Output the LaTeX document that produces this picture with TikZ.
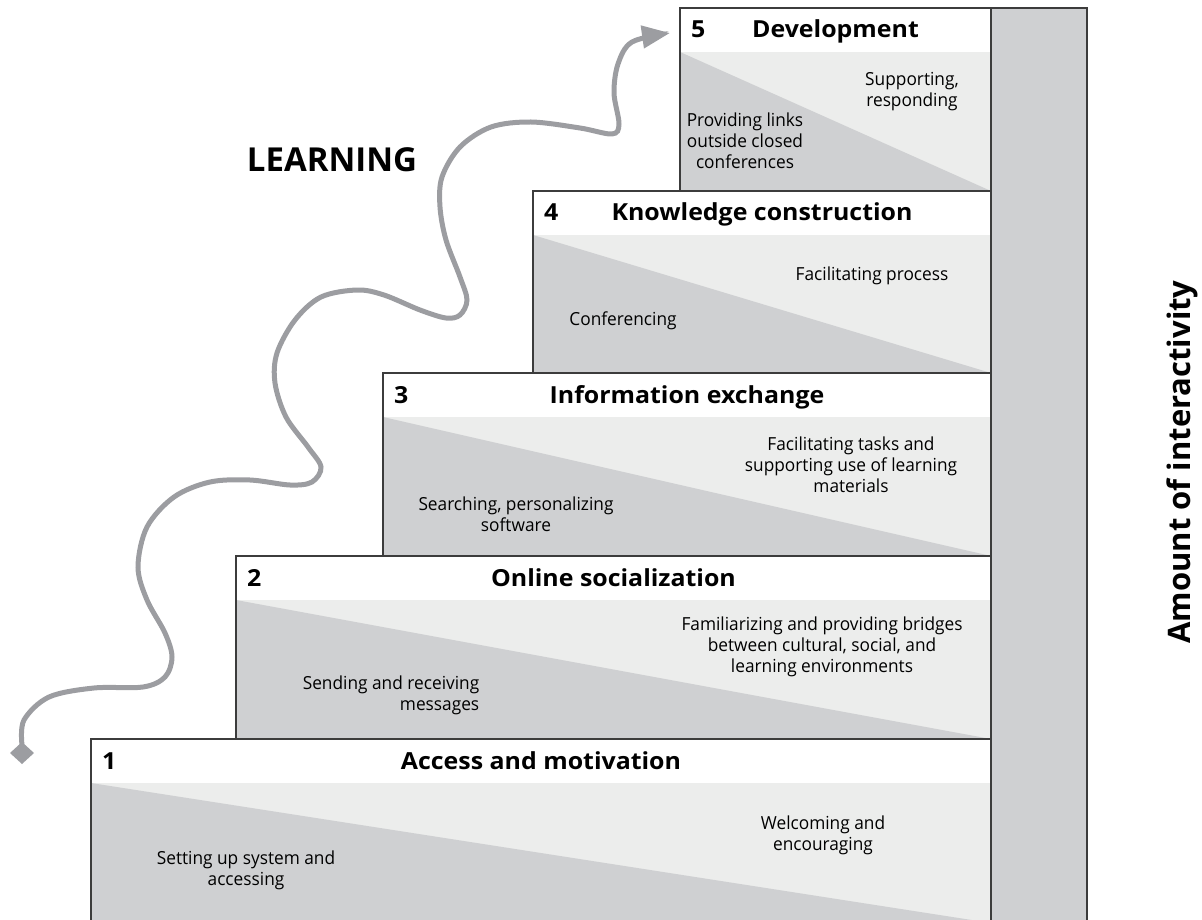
\documentclass[tikz,border=0pt]{standalone}
\usepackage{fontspec}
\setsansfont{Open Sans}
\newfontfamily\headfont[FakeStretch=1.06]{Open Sans}
\newfontfamily\bodyfont[FakeStretch=0.96]{Open Sans}
\usetikzlibrary{arrows.meta}
\definecolor{frame}{HTML}{3C3C3C}
\definecolor{stepdark}{HTML}{CFD0D2}
\definecolor{steppale}{HTML}{ECEDEC}
\definecolor{trailgray}{HTML}{9C9DA1}
\begin{document}
\begin{tikzpicture}[x=1pt,y=-1pt,
    stepframe/.style={draw=frame,line width=1.3pt},
    headtext/.style={font=\headfont\bfseries\fontsize{23.5}{28}\selectfont,inner sep=0pt},
    bodytext/.style={font=\bodyfont\fontsize{18}{21}\selectfont,align=center,inner sep=0pt},
    bigtext/.style={font=\sffamily\bfseries\fontsize{33}{38}\selectfont,inner sep=0pt},
    trail/.style={draw=trailgray,line width=5pt,-{Triangle[length=28pt,width=22pt]}}]
    \useasboundingbox (0,0) rectangle (1202,920);
    \clip (0,0) rectangle (1202,920);

    % steps: number/left/top/bottom
    \foreach \n/\l/\t/\b in {1/91/739/923, 2/236/556/739, 3/383/373/556, 4/533/191/373, 5/680/8/191} {
        \fill[steppale] (\l,\t+44) rectangle (991,\b);
        \fill[stepdark] (\l,\t+44) -- (991,\b) -- (\l,\b) -- cycle;
    }
    \foreach \n/\l/\t/\b/\title in {1/91/739/923/Access and motivation, 2/236/556/739/Online socialization,
            3/383/373/556/Information exchange, 4/533/191/373/Knowledge construction, 5/680/8/191/Development} {
        \draw[stepframe] (\l,\b) -- (\l,\t) -- (991,\t) -- (991,\b);
        \node[headtext,anchor=base west] (num\n) at (\l+11,\t+30) {\n};
        \node[headtext,anchor=base] (title\n) at ({(\l+991)/2},\t+30) {\title};
    }

    % interactivity bar
    \draw[stepframe,fill=stepdark] (991,940) -- (991,8) -- (1087,8) -- (1087,940);
    \node[bigtext,font=\sffamily\bfseries\fontsize{31}{36}\selectfont,rotate=90] (amount) at (1182,462) {Amount of interactivity};

    % step texts
    \node[bodytext] (s5a) at (912,92) {Supporting,\\responding};
    \node[bodytext] (s5b) at (745,141) {Providing links\\outside closed\\conferences};
    \node[bodytext] (s4a) at (872,276) {Facilitating process};
    \node[bodytext] (s4b) at (623,321) {Conferencing};
    \node[bodytext] (s3a) at (851,465) {Facilitating tasks and\\supporting use of learning\\materials};
    \node[bodytext] (s3b) at (516,514) {Searching, personalizing\\software};
    \node[bodytext] (s2a) at (822,647) {Familiarizing and providing bridges\\between cultural, social, and\\learning environments};
    \node[bodytext,align=right] (s2b) at (391,695) {Sending and receiving\\messages};
    \node[bodytext] (s1a) at (823,835) {Welcoming and\\encouraging};
    \node[bodytext] (s1b) at (246,870) {Setting up system and\\accessing};

    % learning path
    \node[bigtext] (learning) at (332,160) {LEARNING};
    \coordinate (seed) at (22,753);
    \coordinate (tip) at (670,33);
    \fill[trailgray] (seed) +(-12,0) -- +(0,-11) -- +(12,0) -- +(0,11) -- cycle;
    \draw[trail] plot[smooth,tension=0.55] coordinates {(22,745) (24,720) (49,697) (94,688) (143,687)
        (165,677) (172,657) (165,633) (147,600) (138,567) (147,527) (174,497) (210,482) (250,480)
        (290,485) (312,482) (321,467) (308,447) (286,417) (275,383) (277,353) (295,320) (321,297)
        (357,290) (384,295) (420,310) (446,318) (460,315) (467,300) (460,277) (446,240) (440,207)
        (442,177) (460,147) (491,127) (531,122) (580,128) (612,134) (619,124) (614,93) (618,64)
        (632,42) (tip)};
\end{tikzpicture}
\end{document}
